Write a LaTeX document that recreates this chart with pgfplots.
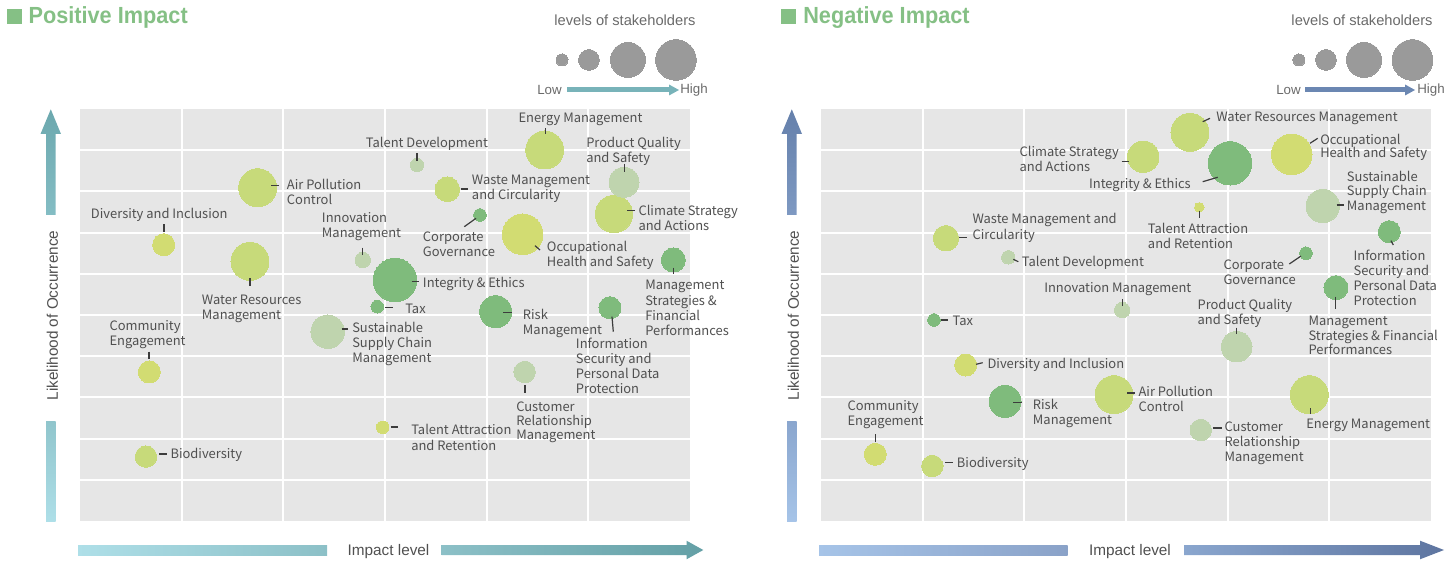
\documentclass[border=0pt]{standalone}
\usepackage{fontspec}
\setmainfont{Liberation Sans}
\newfontfamily\lab{Noto Sans CJK JP}
\usepackage{graphicx}
\usepackage{pgfplots}
\pgfplotsset{compat=1.18}
\usepackage{pgfplotstable}

\definecolor{bgc}{HTML}{E6E6E6}
\definecolor{cY}{HTML}{D2DC72}
\definecolor{cYG}{HTML}{C7DA7A}
\definecolor{cP}{HTML}{BFD4AE}
\definecolor{cG}{HTML}{7FBB7C}
\definecolor{cL}{HTML}{9A9A9A}
\definecolor{txt}{HTML}{505050}
\definecolor{ttl}{HTML}{85C085}
% teal (positive)
\definecolor{tA}{HTML}{6CA8AE}\definecolor{tB}{HTML}{84BDC4}
\definecolor{tC}{HTML}{90C5CC}\definecolor{tD}{HTML}{AEDFE8}
\definecolor{tE}{HTML}{8CC0C7}\definecolor{tF}{HTML}{64A0A6}
\definecolor{tL}{HTML}{78B3B9}
% blue (negative)
\definecolor{bA}{HTML}{6580AB}\definecolor{bB}{HTML}{7E99C2}
\definecolor{bC}{HTML}{8AA6CE}\definecolor{bD}{HTML}{A6C4E8}
\definecolor{bE}{HTML}{8AA2C8}\definecolor{bF}{HTML}{5E75A0}
\definecolor{bL}{HTML}{6B87B2}

% ---------- data: x = impact level, y = likelihood, r = bubble radius (px)
\pgfplotstableread{
x y r
0.823 6.706 11
4.354 6.959 20.3
0.682 3.617 11
2.977 2.274 6.3
}\PY
\pgfplotstableread{
x y r
4.571 9.005 19
3.613 8.051 12.3
5.252 7.451 18.7
1.748 8.090 19
1.672 6.303 19
0.649 1.561 10.7
}\PYG
\pgfplotstableread{
x y r
3.315 8.641 6.7
5.351 8.221 15
2.781 6.335 7.7
2.436 4.595 16.7
4.374 3.617 10.7
}\PP
\pgfplotstableread{
x y r
3.934 7.427 6.3
5.836 6.335 12
3.098 5.850 21.7
2.924 5.201 6.3
4.089 5.080 16
5.213 5.177 11
}\PG
\pgfplotstableread{
x y r
4.741 11.19 6
5.006 11.19 10.4
5.390 11.19 17.5
5.862 11.19 20.3
}\PL
\pgfplotstableread{
x y r
4.630 8.900 20.3
3.721 7.614 4.7
1.423 3.786 11
0.534 1.619 11
}\NY
\pgfplotstableread{
x y r
1.229 6.862 12.7
3.629 9.434 19
3.170 8.842 15.7
2.882 3.066 19
4.803 3.066 19
1.095 1.335 10.7
}\NYG
\pgfplotstableread{
x y r
1.842 6.400 6.7
4.935 7.646 16.7
2.963 5.121 7.7
4.089 4.231 15.3
3.735 2.209 10.7
}\NP
\pgfplotstableread{
x y r
1.111 4.879 6.3
4.023 8.682 21.7
5.590 7.022 11
4.770 6.498 6.3
5.065 5.663 12
1.810 2.903 16
}\NG
\pgfplotstableread{
x y r
4.701 11.19 6
4.967 11.19 10.4
5.341 11.19 17.5
5.818 11.19 20.3
}\NL

\pgfplotsset{
  mat/.style={
    scale only axis, width=457.5pt, height=309pt,
    xmin=0, xmax=6, ymin=0, ymax=10,
    axis background/.style={fill=bgc},
    axis line style={draw=none},
    xtick={1,...,5}, ytick={1,...,9},
    xticklabels={}, yticklabels={},
    tick style={draw=none},
    grid=major, major grid style={white, line width=1.5pt},
    clip=false, anchor=south west,
  },
  bub/.style={scatter, only marks, mark=*,
    scatter/use mapped color={draw=#1, fill=#1},
    mark options={line width=0pt},
    visualization depends on={0.75*\thisrow{r} \as \rr},
    scatter/@pre marker code/.append style={/tikz/mark size=\rr}},
}

\tikzset{labf/.style={inner sep=0pt, text=txt, font=\lab\fontsize{9.7}{12}\selectfont}}
\newcommand\lb[3]{\node[labf, anchor=base west] at (#1,{#2+5.2}) {#3};}
\newcommand\lbr[3]{\node[labf, anchor=base east] at (#1,{#2+5.2}) {#3};}
\newcommand\ld[4]{\draw[txt!75!black, line width=0.9pt] (#1,#2) -- (#3,#4);}

\begin{document}
\begin{tikzpicture}
\path[use as bounding box] (0,0) rectangle (1086.75pt,426pt);

% ---------------- Positive impact
\begin{axis}[mat, at={(60pt,35.25pt)}]
\addplot[bub=cY] table[x=x,y=y] {\PY};
\addplot[bub=cYG] table[x=x,y=y] {\PYG};
\addplot[bub=cP] table[x=x,y=y] {\PP};
\addplot[bub=cG] table[x=x,y=y] {\PG};
\addplot[bub=cL] table[x=x,y=y] {\PL};
\end{axis}

% ---------------- Negative impact
\begin{axis}[mat, at={(615.75pt,35.25pt)}]
\addplot[bub=cY] table[x=x,y=y] {\NY};
\addplot[bub=cYG] table[x=x,y=y] {\NYG};
\addplot[bub=cP] table[x=x,y=y] {\NP};
\addplot[bub=cG] table[x=x,y=y] {\NG};
\addplot[bub=cL] table[x=x,y=y] {\NL};
\end{axis}

\begin{scope}[x=0.75pt, y=-0.75pt, yshift=426pt]
% titles
\fill[ttl] (6.7,9) rectangle (21.7,24);
\node[anchor=base west, inner sep=0pt, text=ttl, font=\bfseries\fontsize{17.5}{20}\selectfont] at (28.3,24) {\scalebox{0.93}[1]{Positive Impact}};
\fill[ttl] (781,9) rectangle (796,24);
\node[anchor=base west, inner sep=0pt, text=ttl, font=\bfseries\fontsize{17.5}{20}\selectfont] at (803,24) {\scalebox{0.93}[1]{Negative Impact}};

% legend texts
\node[text=txt!85, font=\fontsize{11}{13}\selectfont] at (625,20) {levels of stakeholders};
\node[text=txt!85, font=\fontsize{11}{13}\selectfont] at (1362,20) {levels of stakeholders};
\node[anchor=east, inner sep=0pt, text=txt!85, font=\fontsize{10}{12}\selectfont] at (562,90) {Low};
\node[anchor=west, inner sep=0pt, text=txt!85, font=\fontsize{10}{12}\selectfont] at (680,90) {High};
\fill[tL] (567,87.5) rectangle (669,92.5);
\fill[tL] (669,84.5) -- (679,90) -- (669,95.5) -- cycle;
\node[anchor=east, inner sep=0pt, text=txt!85, font=\fontsize{10}{12}\selectfont] at (1301,90) {Low};
\node[anchor=west, inner sep=0pt, text=txt!85, font=\fontsize{10}{12}\selectfont] at (1417,90) {High};
\fill[bL] (1305,87.5) rectangle (1405,92.5);
\fill[bL] (1405,84.5) -- (1415,90) -- (1405,95.5) -- cycle;

% axis arrows positive
\shade[top color=tA, bottom color=tB] (46,215) -- (46,134) -- (40.5,134) -- (50.8,109.3) -- (61,134) -- (55.7,134) -- (55.7,215) -- cycle;
\shade[top color=tC, bottom color=tD] (46,421) rectangle (55.7,521.7);
\shade[left color=tD, right color=tE] (78,545) rectangle (327,555);
\shade[left color=tE, right color=tF] (441.7,545) -- (686.5,545) -- (686.5,540.7) -- (703.3,550) -- (686.5,559.3) -- (686.5,555) -- (441.7,555) -- cycle;
\node[text=txt, font=\fontsize{11.5}{13}\selectfont] at (388.5,552) {Impact level};
\node[rotate=90, text=txt, font=\fontsize{11.5}{13}\selectfont] at (52.5,315.5) {Likelihood of Occurrence};

% axis arrows negative
\shade[top color=bA, bottom color=bB] (787,215) -- (787,134) -- (781.5,134) -- (791.8,109.3) -- (802,134) -- (796.7,134) -- (796.7,215) -- cycle;
\shade[top color=bC, bottom color=bD] (787,421) rectangle (796.7,521.7);
\shade[left color=bD, right color=bE] (819,545) rectangle (1067.7,555);
\shade[left color=bC, right color=bF] (1184,545) -- (1420,545) -- (1420,540.7) -- (1444,550) -- (1420,559.3) -- (1420,555) -- (1184,555) -- cycle;
\node[text=txt, font=\fontsize{11.5}{13}\selectfont] at (1130,552) {Impact level};
\node[rotate=90, text=txt, font=\fontsize{11.5}{13}\selectfont] at (793.5,315.5) {Likelihood of Occurrence};

% ---------- labels positive
\lb{90.7}{213.3}{Diversity and Inclusion}
\ld{164}{224.3}{164}{231.7}
\lb{286.7}{184.3}{Air Pollution}\lb{286.7}{199.3}{Control}
\ld{271}{185.3}{279}{185.3}
\lb{201.7}{299.3}{Water Resources}\lb{201.7}{314.3}{Management}
\ld{250}{278.3}{250}{285.7}
\lb{109.3}{325.7}{Community}\lb{109.3}{340.7}{Engagement}
\ld{149}{351.7}{149}{359.3}
\lb{170.3}{453.3}{Biodiversity}
\ld{159.3}{454}{166.7}{454}
\lb{321.7}{217.3}{Innovation}\lb{321.7}{232.3}{Management}
\ld{362.7}{247.7}{362.7}{255}
\lb{365.7}{142.3}{Talent Development}
\ld{417}{153.3}{417}{160.7}
\lb{518.3}{117.3}{Energy Management}
\ld{545.3}{128.3}{545.3}{134.3}
\lb{586}{142.7}{Product Quality}\lb{586}{157.7}{and Safety}
\ld{624.3}{164}{624.3}{171.7}
\lb{471.7}{179.3}{Waste Management}\lb{471.7}{194.3}{and Circularity}
\ld{460.7}{189}{468.3}{189}
\lb{638.3}{210}{Climate Strategy}\lb{638.3}{225.7}{and Actions}
\ld{627.3}{210.7}{635}{210.7}
\lb{422.7}{236.7}{Corporate}\lb{422.7}{251.7}{Governance}
\ld{464.3}{226.7}{476}{218.3}
\lb{546.7}{246.7}{Occupational}\lb{546.7}{261.7}{Health and Safety}
\ld{535}{245.7}{540}{250}
\lb{645}{284.3}{Management}\lb{645}{300}{Strategies \&}\lb{645}{315}{Financial}\lb{645}{330}{Performances}
\ld{673.3}{267.7}{673.3}{274.3}
\lb{422.7}{282.7}{Integrity \& Ethics}
\ld{411.7}{281.7}{419.3}{281.7}
\lb{405}{308.3}{Tax}
\ld{385}{307.3}{392.7}{307.3}
\lb{522.7}{314.3}{Risk}\lb{522.7}{329.3}{Management}
\ld{503.3}{312.7}{511.7}{312.7}
\lb{575.7}{343.3}{Information}\lb{575.7}{358.3}{Security and}\lb{575.7}{373.3}{Personal Data}\lb{575.7}{388.3}{Protection}
\ld{612}{316.7}{613.3}{331.7}
\lb{352}{327.3}{Sustainable}\lb{352}{342.7}{Supply Chain}\lb{352}{357.3}{Management}
\ld{341.7}{329}{348.3}{329}
\lb{516}{406}{Customer}\lb{516}{420}{Relationship}\lb{516}{434.3}{Management}
\ld{525}{385}{525}{393.3}
\lb{411}{429.3}{Talent Attraction}\lb{411}{445}{and Retention}
\ld{390.7}{427}{398.3}{427}

% ---------- labels negative
\lb{1216}{116}{Water Resources Management}
\ld{1202.7}{121.7}{1210}{118.3}
\lb{1320}{139}{Occupational}\lb{1320}{152.7}{Health and Safety}
\ld{1310}{143.3}{1317.7}{138.3}
\lb{1019.3}{151.7}{Climate Strategy}\lb{1019.3}{166.7}{and Actions}
\ld{1121.7}{161.7}{1129.3}{161.7}
\lbr{1191}{183.3}{Integrity \& Ethics}
\ld{1202.7}{181.7}{1217.7}{177.3}
\lb{1346.7}{176}{Sustainable}\lb{1346.7}{190.7}{Supply Chain}\lb{1346.7}{205}{Management}
\ld{1336.7}{205}{1344}{205}
\lb{972.3}{218.3}{Waste Management and}\lb{972.3}{234}{Circularity}
\ld{959.3}{237.3}{966.7}{237.3}
\lb{1147.7}{228.3}{Talent Attraction}\lb{1147.7}{243.3}{and Retention}
\ld{1199.3}{211}{1199.3}{217.7}
\lb{1353.3}{255.3}{Information}\lb{1353.3}{270.7}{Security and}\lb{1353.3}{285.7}{Personal Data}\lb{1353.3}{300.7}{Protection}
\ld{1391}{240.7}{1393.3}{245}
\lb{1021.7}{261.7}{Talent Development}
\ld{1013.3}{259.3}{1018.3}{261.7}
\lb{1223.3}{264}{Corporate}\lb{1223.3}{279.3}{Governance}
\ld{1289.3}{264}{1301}{256}
\lb{1044}{287.3}{Innovation Management}
\ld{1122.3}{299}{1122.3}{305.7}
\lb{1308.3}{320}{Management}\lb{1308.3}{335}{Strategies \& Financial}\lb{1308.3}{349}{Performances}
\ld{1335.7}{296.7}{1335.7}{309.3}
\lb{1197.3}{304.3}{Product Quality}\lb{1197.3}{319.3}{and Safety}
\ld{1236.7}{327.7}{1236.7}{334.3}
\lb{952.3}{320}{Tax}
\ld{941}{320}{947.7}{320}
\lb{987.3}{363.3}{Diversity and Inclusion}
\ld{976}{364.3}{982.7}{362.7}
\lb{1032.7}{404.3}{Risk}\lb{1032.7}{419}{Management}
\ld{1013.3}{402.7}{1021.7}{402.7}
\lb{847.3}{405.7}{Community}\lb{847.3}{420}{Engagement}
\ld{875.3}{434.3}{875.3}{441.7}
\lb{956.7}{462.7}{Biodiversity}
\ld{945}{462.7}{952.7}{462.7}
\lb{1138.3}{391.7}{Air Pollution}\lb{1138.3}{406.7}{Control}
\ld{1127.3}{393}{1135}{393}
\lb{1224.3}{426.7}{Customer}\lb{1224.3}{441.7}{Relationship}\lb{1224.3}{456.7}{Management}
\ld{1213.3}{428}{1221.7}{428}
\lb{1306}{423.3}{Energy Management}
\ld{1310.7}{408.3}{1310.7}{414}
\end{scope}
\end{tikzpicture}
\end{document}
